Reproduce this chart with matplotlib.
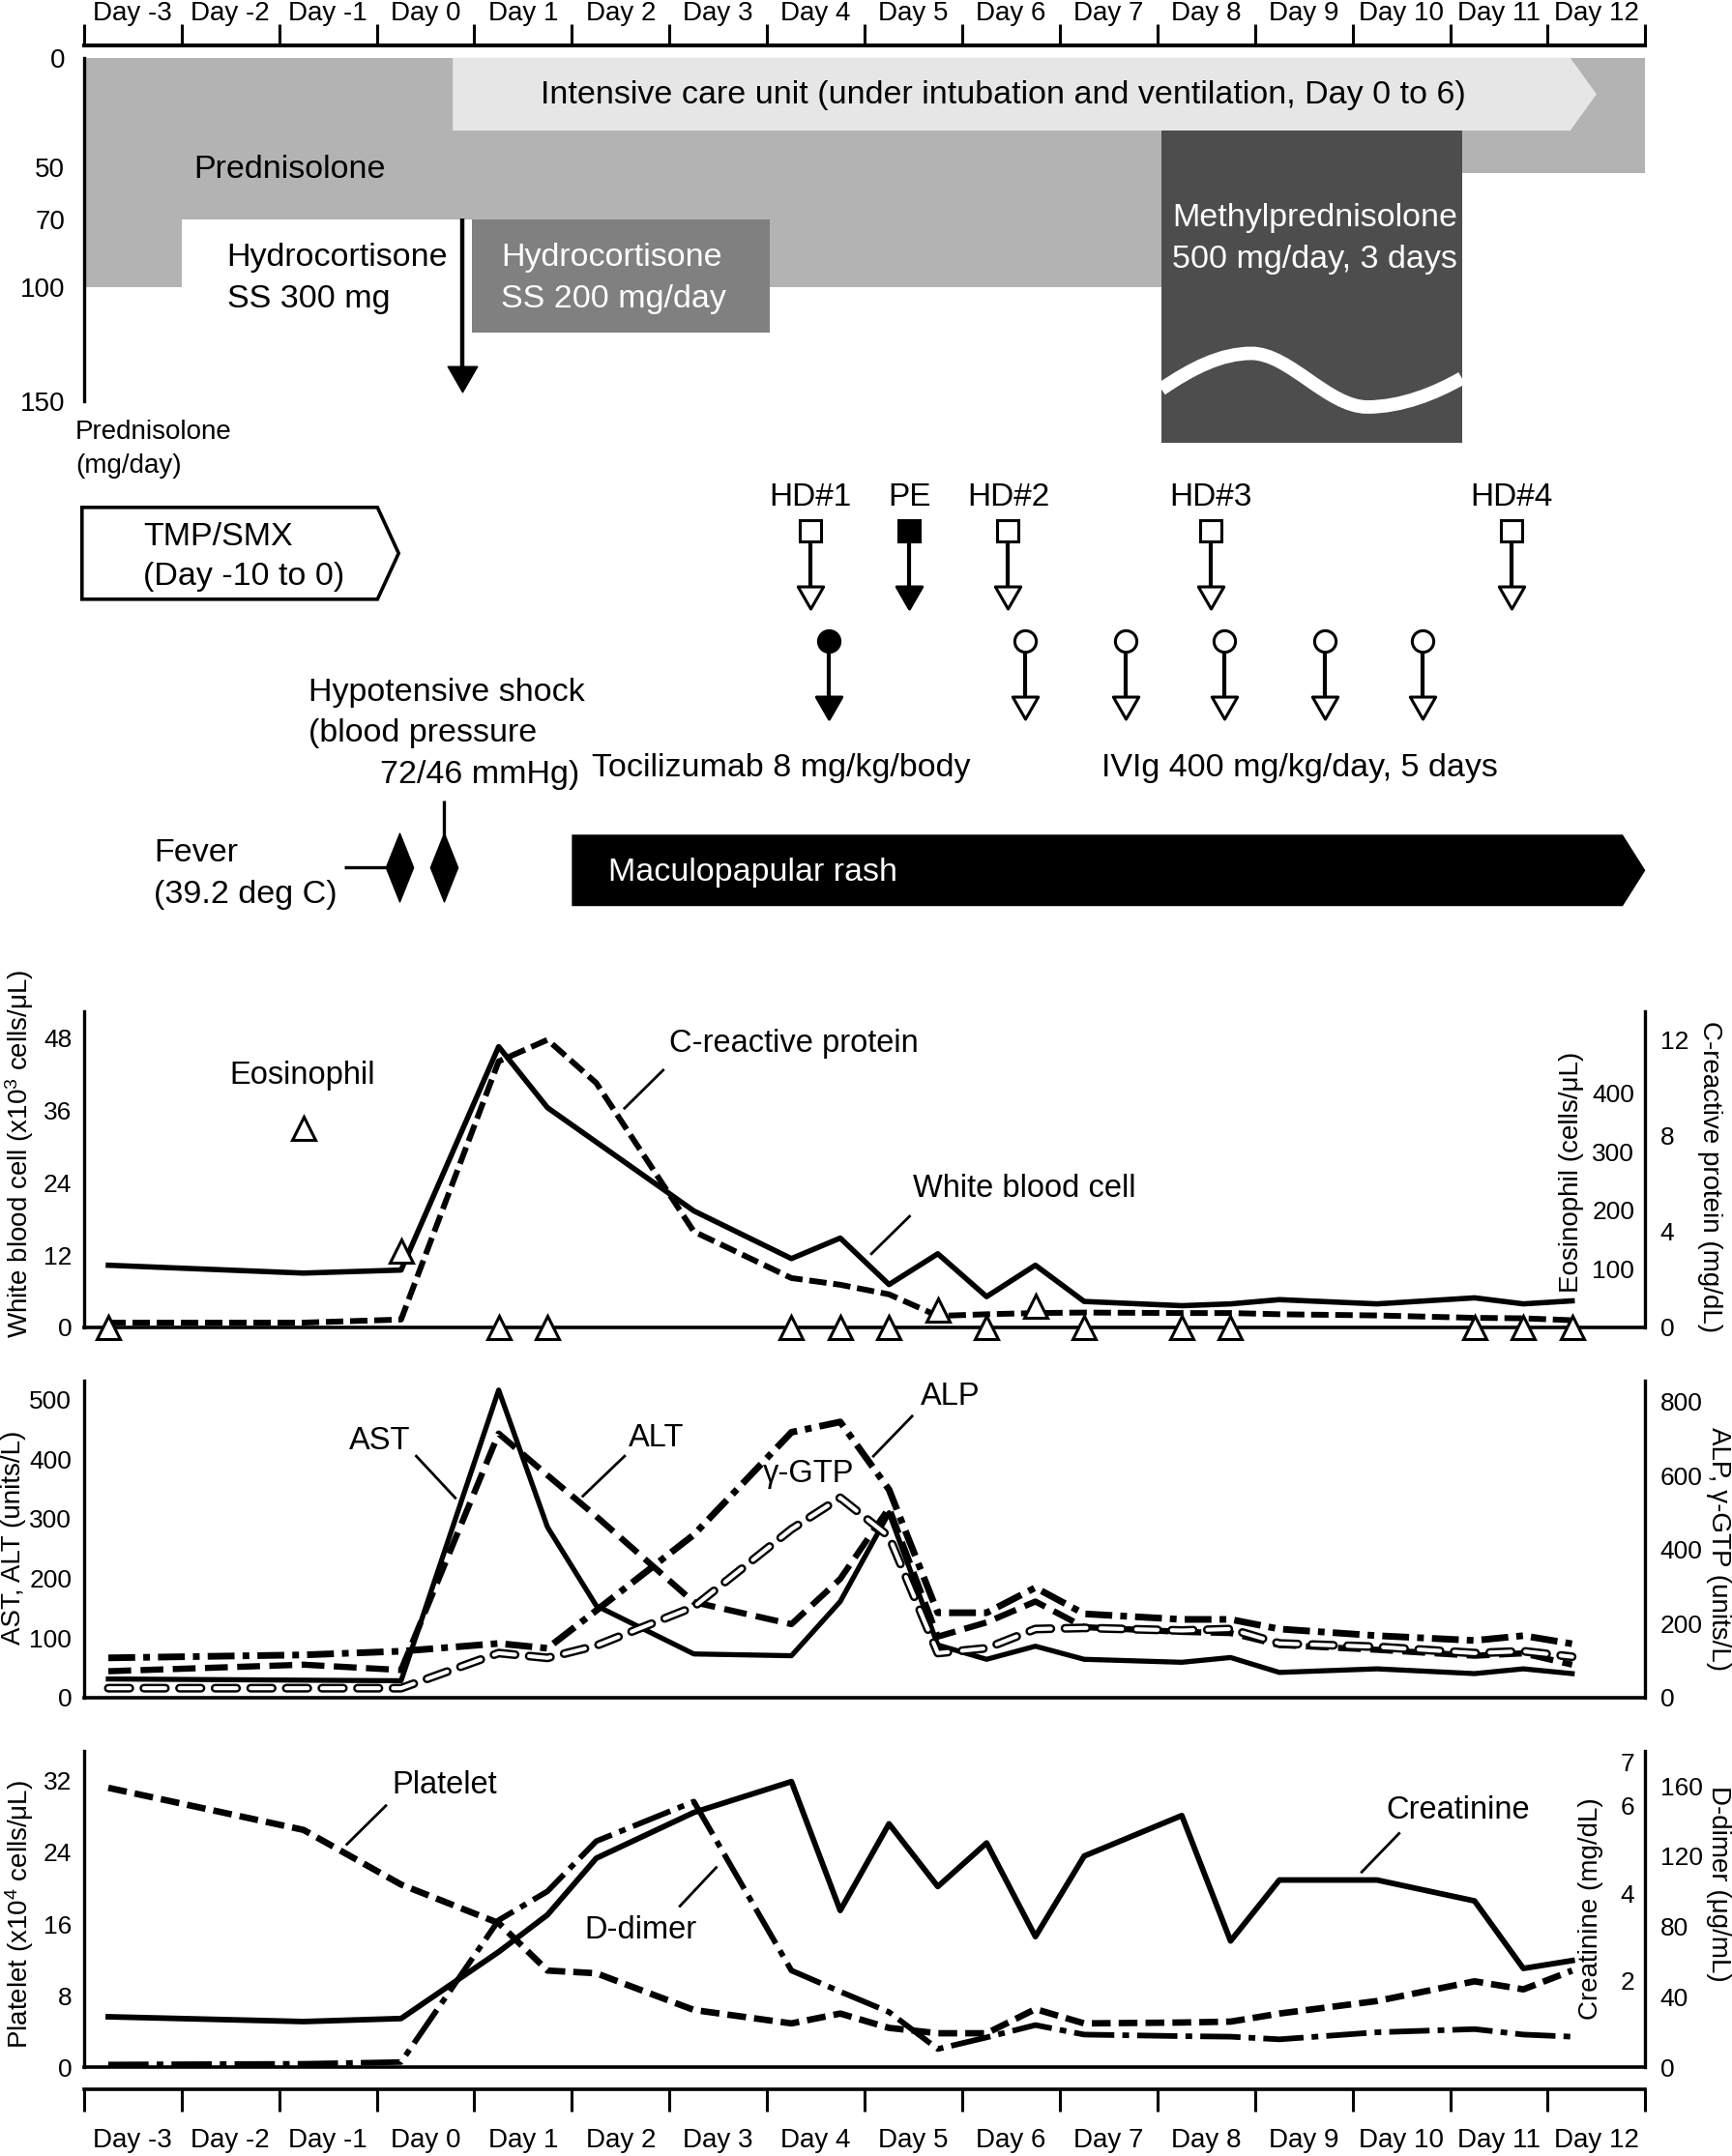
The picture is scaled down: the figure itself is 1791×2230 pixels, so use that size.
import numpy as np
import matplotlib
matplotlib.use('Agg')
import matplotlib.pyplot as plt
from matplotlib.patches import Polygon, Rectangle, PathPatch
from matplotlib.path import Path

plt.rcParams['font.family'] = ['Liberation Sans', 'DejaVu Sans']
plt.rcParams['mathtext.fontset'] = 'custom'
plt.rcParams['mathtext.rm'] = 'Liberation Sans'
plt.rcParams['mathtext.default'] = 'regular'
plt.rcParams['lines.scale_dashes'] = False

# ------------------------------------------------------------------ data
day_numbers = list(range(-3, 13))
day_labels = [f"Day {d}" for d in day_numbers]

# steroid / treatment timeline (x in days)
pred_edges = [-3.5, -2.5, 0.5, 10.62, 12.5]
pred_dose = [100, 70, 100, 52]
pred_ticks = [0, 50, 70, 100, 150]
hydro_span = (0.475, 3.53)
hydro_dose = (70, 120)
mpsl_span = (7.54, 10.62)
icu_span = (0.28, 12.0)
hc_bolus_day = 0.376
tmp_span = (-3.52, -0.275)
hd_days = [3.94, 5.97, 8.05, 11.13]
hd_labels = ['HD#1', 'HD#2', 'HD#3', 'HD#4']
pe_day = 4.96
toci_day = 4.13
ivig_days = [6.14, 7.17, 8.19, 9.22, 10.22]
fever_days = [-0.265, 0.19]
rash_span = (1.5, 12.5)

# laboratory time points (days)
t_lab = [-3.25, -1.25, -0.25, 0.75, 1.25, 1.75, 2.75, 3.75, 4.25, 4.75, 5.25,
         5.75, 6.25, 6.75, 7.75, 8.25, 8.75, 9.75, 10.75, 11.25, 11.75]
wbc = [10.3, 9.0, 9.5, 46.5, 36.4, 30.7, 19.3, 11.4, 14.8, 7.1, 12.2,
       5.1, 10.3, 4.3, 3.6, 3.9, 4.6, 3.9, 4.9, 3.9, 4.4]
crp = [0.2, 0.2, 0.33, 11.1, 12.0, 10.2, 4.0, 2.06, 1.78, 1.38, 0.48,
       0.55, 0.6, 0.62, 0.6, 0.6, 0.55, 0.5, 0.4, 0.38, 0.3]
eos_t = [-3.25, -1.25, -0.25, 0.75, 1.25, 3.75, 4.25, 4.75, 5.25, 5.75, 6.25,
         6.75, 7.75, 8.25, 10.75, 11.25, 11.75]
eos = [0, 340, 130, 0, 0, 0, 0, 0, 29, 0, 36, 0, 0, 0, 0, 0, 0]

ast = [31, 29, 28, 516, 286, 154, 73, 70, 161, 310, 88,
       64, 86, 64, 59, 67, 42, 48, 40, 48, 40]
alt = [44, 55, 46, 443, 373, 304, 160, 123, 199, 318, 102,
       126, 161, 118, 110, 108, 88, 80, 70, 74, 55]
alp = [107, 115, 125, 146, 133, 235, 440, 717, 745, 562, 229,
       229, 297, 226, 211, 211, 185, 167, 154, 167, 145]
gtp = [25, 25, 25, 120, 107, 140, 245, 455, 540, 435, 120,
       133, 185, 188, 181, 185, 146, 137, 120, 125, 110]

platelet = [31.2, 26.5, 20.4, 16.1, 10.8, 10.5, 6.4, 4.9, 6.0, 4.4, 3.8,
            3.8, 6.5, 4.9, 5.0, 5.1, 6.0, 7.4, 9.6, 8.7, 10.8]
creatinine = [1.16, 1.05, 1.12, 2.65, 3.5, 4.8, 5.85, 6.56, 3.6, 5.59, 4.15,
              5.15, 3.0, 4.85, 5.78, 2.9, 4.3, 4.3, 3.82, 2.27, 2.45]
ddimer = [1.6, 2.0, 3.0, 83.6, 100, 128.5, 151, 55, 43, 31.4, 10.4,
          17, 24, 18.6, 17.7, 17.4, 15.9, 19.9, 21.7, 18.6, 17.4]

# ------------------------------------------------------------------ layout
W, H = 1259.0, 1568.0
XL, XR = 61, 1196
XLIM = (-3.5, 12.5)


def rect(x0, y0, x1, y1):
    return [x0 / W, 1 - y1 / H, (x1 - x0) / W, (y1 - y0) / H]


fig = plt.figure(figsize=(17.91, 22.30), dpi=100)

tri_down = Path([(-1.15, 1), (1.15, 1), (0, -1), (-1.15, 1)],
                [Path.MOVETO, Path.LINETO, Path.LINETO, Path.CLOSEPOLY])
diamond = Path([(0, 1), (0.4, 0), (0, -1), (-0.4, 0), (0, 1)],
               [Path.MOVETO, Path.LINETO, Path.LINETO, Path.LINETO, Path.CLOSEPOLY])

# ---------------- prednisolone axis (irregular dose scale)
knots_dose = [-100, 0, 50, 70, 100, 150, 400]
knots_px = [-116.1, 42.5, 121.8, 159.3, 208.5, 291.7, 707.7]


def fwd(v):
    return np.interp(v, knots_dose, knots_px)


def inv(p):
    return np.interp(p, knots_px, knots_dose)


ax_pred = fig.add_axes(rect(XL, 42.5, XR, 291.7))
ax_pred.set_yscale('function', functions=(fwd, inv))
ax_pred.set_ylim(150, 0)
ax_pred.set_xlim(*XLIM)
ax_pred.patch.set_alpha(0)
for s in ['top', 'right', 'bottom']:
    ax_pred.spines[s].set_visible(False)
ax_pred.spines['left'].set_linewidth(2.4)
ax_pred.set_xticks([])
ax_pred.set_yticks(pred_ticks)
ax_pred.set_yticklabels([str(v) for v in pred_ticks])
ax_pred.yaxis.set_minor_locator(matplotlib.ticker.NullLocator())
ax_pred.tick_params(axis='y', length=0, pad=14, labelsize=20)
ax_pred.fill_between(pred_edges, 0, pred_dose + [pred_dose[-1]], step='post',
                     color='#b3b3b3', lw=0)
ax_pred.add_patch(Rectangle((hydro_span[0], hydro_dose[0]),
                            hydro_span[1] - hydro_span[0],
                            hydro_dose[1] - hydro_dose[0],
                            fc='#808080', ec='none'))

# ---------------- overlay axes for the timeline
ax_top = fig.add_axes(rect(XL, 0, XR, 700))
ax_top.set_xlim(*XLIM)
ax_top.set_ylim(700, 0)
ax_top.axis('off')


def ttext(x, yc, s, size=24.5, **kw):
    ax_top.text(x, yc + 0.35 * size, s, fontsize=size, va='baseline', **kw)


# ICU arrow
tip = 0.27
ax_top.add_patch(Polygon([(icu_span[0], 42), (icu_span[1] - tip, 42),
                          (icu_span[1], 68.5), (icu_span[1] - tip, 95),
                          (icu_span[0], 95)], closed=True, fc='#e6e6e6',
                         ec='none', clip_on=False))
ttext(5.92, 67, 'Intensive care unit (under intubation and ventilation, Day 0 to 6)',
      ha='center')

# methylprednisolone pulse
mbox = Rectangle((mpsl_span[0], 95), mpsl_span[1] - mpsl_span[0], 227,
                 fc='#4d4d4d', ec='none', clip_on=False)
ax_top.add_patch(mbox)
wave = Path([(7.54, 283), (7.85, 268), (8.15, 257), (8.465, 257),
             (8.85, 257), (9.25, 296), (9.65, 296),
             (10.0, 296), (10.35, 286), (10.62, 275)],
            [Path.MOVETO] + [Path.CURVE4] * 9)
wp = PathPatch(wave, fc='none', ec='white', lw=10, clip_on=False)
ax_top.add_patch(wp)
wp.set_clip_path(mbox)
ttext(7.65, 156, 'Methylprednisolone', color='white')
ttext(7.65, 186, '500 mg/day, 3 days', color='white')

ttext(-2.372, 121, 'Prednisolone')
ttext(-2.034, 185, 'Hydrocortisone')
ttext(-2.034, 215, 'SS 300 mg')
ttext(0.771, 185, 'Hydrocortisone', color='white')
ttext(0.771, 215, 'SS 200 mg/day', color='white')
ttext(-3.585, 312, 'Prednisolone', size=20)
ttext(-3.585, 337, '(mg/day)', size=20)

# hydrocortisone bolus arrow
ax_top.vlines(hc_bolus_day, 159, 268, color='k', lw=3.2)
ax_top.plot([hc_bolus_day], [275.5], marker=tri_down, ms=22, color='k', ls='none')

# TMP/SMX pentagon
ax_top.add_patch(Polygon([(tmp_span[0], 369), (tmp_span[1] - 0.217, 369),
                          (tmp_span[1], 402.4), (tmp_span[1] - 0.217, 435.8),
                          (tmp_span[0], 435.8)], closed=True, fc='white',
                         ec='k', lw=2.6, clip_on=False))
ttext(-2.894, 388, 'TMP/SMX')
ttext(-2.894, 417, '(Day -10 to 0)')

# haemodialysis / plasma exchange
ax_top.vlines(hd_days + [pe_day], 395, 428, color='k', lw=3)
ax_top.plot(hd_days, [386] * len(hd_days), ls='none', marker='s', ms=16,
            mfc='white', mec='k', mew=2.2)
ax_top.plot([pe_day], [386], ls='none', marker='s', ms=16, mfc='k', mec='k', mew=2.2)
ax_top.plot(hd_days, [434.6] * len(hd_days), ls='none', marker=tri_down, ms=19,
            mfc='white', mec='k', mew=2.2)
ax_top.plot([pe_day], [434.6], ls='none', marker=tri_down, ms=19, mfc='k',
            mec='k', mew=2.2)
for d, lab in zip(hd_days, hd_labels):
    ttext(d, 359, lab, size=24, ha='center')
ttext(pe_day, 359, 'PE', size=24, ha='center')

# tocilizumab / IVIg
ax_top.vlines([toci_day] + ivig_days, 474, 507, color='k', lw=3)
ax_top.plot([toci_day], [466], ls='none', marker='o', ms=16, mfc='k', mec='k', mew=2.2)
ax_top.plot(ivig_days, [466] * len(ivig_days), ls='none', marker='o', ms=16,
            mfc='white', mec='k', mew=2.2)
ax_top.plot([toci_day], [515], ls='none', marker=tri_down, ms=19, mfc='k',
            mec='k', mew=2.2)
ax_top.plot(ivig_days, [515] * len(ivig_days), ls='none', marker=tri_down, ms=19,
            mfc='white', mec='k', mew=2.2)
ttext(1.70, 556, 'Tocilizumab 8 mg/kg/body')
ttext(6.93, 556, 'IVIg 400 mg/kg/day, 5 days')

# hypotensive shock / fever
ttext(-1.2, 501, 'Hypotensive shock')
ttext(-1.2, 531, '(blood pressure')
ttext(1.575, 561, '72/46 mmHg)', ha='right')
ttext(-2.78, 618, 'Fever')
ttext(-2.78, 648, '(39.2 deg C)')
ax_top.hlines(631, fever_days[0] - 0.57, fever_days[0] - 0.14, color='k', lw=2.4)
ax_top.vlines(fever_days[1], 582, 608, color='k', lw=2.4)
ax_top.plot(fever_days, [631] * len(fever_days), ls='none', marker=diamond, ms=51,
            color='k')

# maculopapular rash
ax_top.add_patch(Polygon([(rash_span[0], 607), (rash_span[1] - 0.232, 607),
                          (rash_span[1], 633), (rash_span[1] - 0.232, 659),
                          (rash_span[0], 659)], closed=True, fc='k', ec='none',
                         clip_on=False))
ttext(1.87, 632, 'Maculopapular rash', color='white')

# ---------------- day axes (top & bottom)
edges = np.arange(-3.5, 12.51, 1.0)


def day_axis(y0, y1, side, pad, width, tick_len):
    a = fig.add_axes(rect(XL, y0, XR, y1))
    a.set_xlim(*XLIM)
    a.patch.set_alpha(0)
    for s in ['top', 'bottom', 'left', 'right']:
        a.spines[s].set_visible(s == side)
    a.spines[side].set_linewidth(width)
    a.set_yticks([])
    a.set_xticks(edges)
    a.set_xticklabels([])
    a.set_xticks(day_numbers, minor=True)
    a.set_xticklabels(day_labels, minor=True)
    top = side == 'top'
    a.tick_params(axis='x', which='major', top=top, bottom=not top,
                  labeltop=False, labelbottom=False, direction='out',
                  length=tick_len, width=2.2)
    a.tick_params(axis='x', which='minor', top=top, bottom=not top,
                  labeltop=top, labelbottom=not top, length=0, pad=pad,
                  labelsize=20)
    return a


day_axis(33, 35, 'top', 14, 2.9, 15.7)
day_axis(1517.4, 1519.4, 'bottom', 29, 2.6, 16.7)


# ---------------- laboratory panels
def panel(y_top, y_zero):
    a = fig.add_axes(rect(XL, y_top, XR, y_zero))
    a.set_xlim(*XLIM)
    a.set_xticks([])
    a.patch.set_alpha(0)
    for s in ['top', 'right']:
        a.spines[s].set_visible(False)
    a.spines['left'].set_linewidth(2.4)
    a.spines['bottom'].set_linewidth(2.6)
    a.tick_params(axis='y', length=0, pad=9, labelsize=19)
    return a


def twin(a, ylim, ticks, inside):
    t = a.twinx()
    t.set_xlim(*XLIM)
    t.set_ylim(*ylim)
    t.set_yticks(ticks)
    for s in ['top', 'left', 'bottom', 'right']:
        t.spines[s].set_visible(False)
    if inside:
        t.tick_params(axis='y', length=0, pad=-8, labelsize=19)
        plt.setp(t.get_yticklabels(), ha='right')
    else:
        t.spines['right'].set_visible(True)
        t.spines['right'].set_linewidth(2.4)
        t.tick_params(axis='y', length=0, pad=11, labelsize=19)
    return t


def set_ylab(a, text, x, y, rot):
    a.set_ylabel(text, fontsize=20, rotation=rot, va='center', ha='center',
                 rotation_mode='anchor')
    a.yaxis.set_label_coords(x, y)


def notes(a, items, leaders):
    for s, (x, y) in items:
        a.text(x, y, s, fontsize=23.5, ha='center', va='center')
    for (x0, y0), (x1, y1) in leaders:
        a.plot([x0, x1], [y0, y1], color='k', lw=2)


# panel 1: WBC, CRP, eosinophil
ax1 = panel(735.3, 965.4)
ax1.set_ylim(0, 52.4)
ax1.set_yticks([0, 12, 24, 36, 48])
ax1.plot(t_lab, wbc, color='k', lw=4)
set_ylab(ax1, 'White blood cell (x10$^3$ cells/μL)', -0.0414, 0.55, 90)
notes(ax1, [('Eosinophil', (-1.26, 41.7)), ('C-reactive protein', (3.77, 47.0)),
            ('White blood cell', (6.14, 22.9))],
      [((2.435, 42.6), (2.04, 36.3)), ((4.96, 18.4), (4.57, 12.2))])
ax1c = twin(ax1, (0, 13.2), [0, 4, 8, 12], False)
ax1c.plot(t_lab, crp, color='k', lw=4.3, ls=(0, (13, 5)))
set_ylab(ax1c, 'C-reactive protein (mg/dL)', 1.041, 0.475, 270)
ax1b = twin(ax1, (0, 540), [100, 200, 300, 400], True)
ax1b.plot(eos_t, eos, ls='none', marker='^', ms=17, mfc='white', mec='k', mew=2.2,
          clip_on=False, zorder=5)
set_ylab(ax1b, 'Eosinophil (cells/μL)', 0.953, 0.49, 90)

# panel 2: AST, ALT, ALP, gamma-GTP
ax2 = panel(1004, 1234.5)
ax2.set_ylim(0, 532)
ax2.set_yticks([0, 100, 200, 300, 400, 500])
ax2.plot(t_lab, ast, color='k', lw=3.8)
ax2.plot(t_lab, alt, color='k', lw=4.6, ls=(0, (17, 7)))
set_ylab(ax2, 'AST, ALT (units/L)', -0.045, 0.505, 90)
notes(ax2, [('AST', (-0.47, 431)), ('ALT', (2.364, 435)),
            ('γ-GTP', (3.93, 375)), ('ALP', (5.38, 505))],
      [((-0.094, 405), (0.305, 335)), ((2.04, 405), (1.613, 338)),
       ((4.986, 472), (4.59, 405))])
ax2b = twin(ax2, (0, 857), [0, 200, 400, 600, 800], False)
ax2b.plot(t_lab, gtp, color='k', lw=6.5, ls=(0, (16, 10.5)), dash_capstyle='round')
ax2b.plot(t_lab, gtp, color='white', lw=3.0, ls=(0, (16, 10.5)), dash_capstyle='round')
ax2b.plot(t_lab, alp, color='k', lw=5, ls=(0, (20, 6, 5, 6)))
set_ylab(ax2b, 'ALP, γ-GTP (units/L)', 1.0467, 0.47, 270)

# panel 3: platelet, creatinine, D-dimer
ax3 = panel(1273.5, 1503.5)
ax3.set_ylim(0, 35.3)
ax3.set_yticks([0, 8, 16, 24, 32])
ax3.plot(t_lab, platelet, color='k', lw=4.8, ls=(0, (14, 6)))
set_ylab(ax3, 'Platelet (x10$^4$ cells/μL)', -0.0414, 0.485, 90)
notes(ax3, [('Platelet', (0.193, 31.5)), ('D-dimer', (2.209, 15.3)),
            ('Creatinine', (10.58, 28.7))],
      [((-0.406, 29.2), (-0.805, 24.9)), ((2.979, 22.3), (2.608, 18.0)),
       ((9.976, 26.1), (9.594, 21.8))])
ax3b = twin(ax3, (0, 7.26), [2, 4, 6, 7], True)
ax3b.plot(t_lab, creatinine, color='k', lw=4.2)
set_ylab(ax3b, 'Creatinine (mg/dL)', 0.965, 0.502, 90)
ax3c = twin(ax3, (0, 179.7), [0, 40, 80, 120, 160], False)
ax3c.plot(t_lab, ddimer, color='k', lw=4.2, ls=(0, (30, 6, 5, 6)))
set_ylab(ax3c, 'D-dimer (μg/mL)', 1.0467, 0.58, 270)

fig.savefig('out.png', dpi=100)
